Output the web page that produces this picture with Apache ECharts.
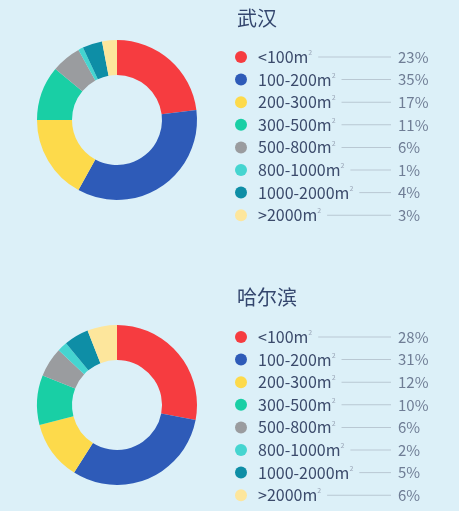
<!DOCTYPE html>
<html>
<head>
<meta charset="utf-8">
<script src="https://cdn.jsdelivr.net/npm/echarts@6/dist/echarts.min.js"></script>
<style>
  html, body { margin: 0; padding: 0; background: #dcf0f8; }
  #chart { width: 459px; height: 511px; }
</style>
</head>
<body>
<div id="chart"></div>
<script>
// 面积分段
var categories = ['<100', '100-200', '200-300', '300-500', '500-800', '800-1000', '1000-2000', '>2000'];
var wuhanValues = [23, 35, 17, 11, 6, 1, 4, 3];
var harbinValues = [28, 31, 12, 10, 6, 2, 5, 6];
var cityNames = ['武汉', '哈尔滨'];
var colors = ['#f63c40', '#2e5bb8', '#fdda4b', '#19cfa5', '#9a9c9f', '#45d5d0', '#0e8ea6', '#fde69c'];

var FONT = '"Noto Sans CJK SC", "Noto Sans", sans-serif';
var FS = 16;
var names = categories.map(function (c) { return c + 'm²'; });

// measure label width so the leader line ends at the same x
var ctx = document.createElement('canvas').getContext('2d');
function textW(str, size) {
  ctx.font = size + 'px ' + FONT;
  return ctx.measureText(str).width;
}

function makeFormatter(values) {
  return function (name) {
    var i = names.indexOf(name);
    return '{n|' + categories[i] + 'm}{s|2}{g|}{l|}{p|' + values[i] + '%}';
  };
}

// line width differs per item, so each item gets its own rich style
function legendFor(values, top) {
  var data = names.map(function (nm, i) {
    var base = categories[i] + 'm';
    var lineW = 139 - 6 - textW(base, FS) - textW('2', 7) - 6;
    return {
      name: nm,
      textStyle: {
        rich: {
          n: { fontSize: FS, color: '#3b4a6b', fontFamily: FONT, padding: [0, 0, 0, 6] },
          s: { fontSize: 7, color: '#9aa6b8', fontFamily: FONT, padding: [0, 0, 9, 0] },
          g: { width: 6, height: 1 },
          l: { width: Math.max(lineW, 10), height: 1, backgroundColor: '#b9c8d3' },
          p: { fontSize: 15, color: '#6f7d95', fontFamily: FONT, padding: [0, 0, 0, 7] }
        }
      }
    };
  });
  return {
    orient: 'vertical',
    left: 230,
    top: top,
    icon: 'circle',
    itemWidth: 12,
    itemHeight: 12,
    itemGap: 6.6,
    selectedMode: false,
    data: data,
    formatter: makeFormatter(values)
  };
}

function pieFor(values, cy) {
  return {
    type: 'pie',
    center: [117, cy],
    radius: [45, 80],
    startAngle: 90,
    clockwise: true,
    label: { show: false },
    labelLine: { show: false },
    emphasis: { scale: false },
    data: names.map(function (nm, i) {
      return { name: nm, value: values[i], itemStyle: { color: colors[i] } };
    })
  };
}

var chart = echarts.init(document.getElementById('chart'));
chart.setOption({
  backgroundColor: '#dcf0f8',
  animation: false,
  title: [
    { text: cityNames[0], left: 232, top: 3,
      textStyle: { fontSize: 20, fontWeight: 'normal', color: '#34466e', fontFamily: FONT } },
    { text: cityNames[1], left: 232, top: 282,
      textStyle: { fontSize: 20, fontWeight: 'normal', color: '#34466e', fontFamily: FONT } }
  ],
  legend: [
    legendFor(wuhanValues, 44),
    legendFor(harbinValues, 324)
  ],
  series: [
    pieFor(wuhanValues, 120),
    pieFor(harbinValues, 405)
  ]
});
</script>
</body>
</html>
